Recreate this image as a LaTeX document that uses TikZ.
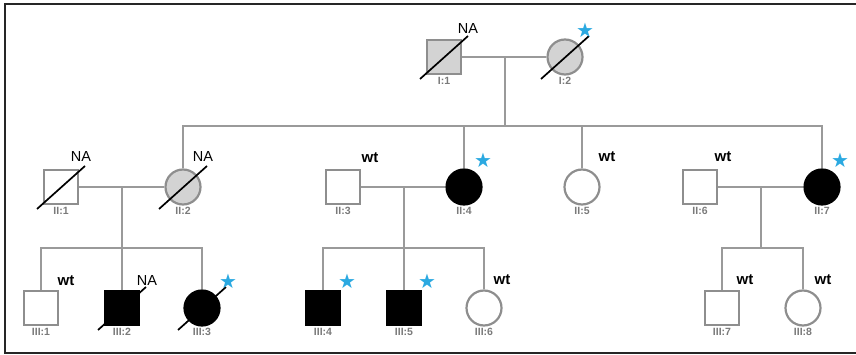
\documentclass[tikz,border=0pt]{standalone}
\usepackage{fontspec}
\setmainfont{Liberation Sans}
\newfontfamily\starfont{DejaVu Sans}
\usetikzlibrary{calc}
\definecolor{linegray}{HTML}{9A9A9A}
\definecolor{edgegray}{HTML}{8E8E8E}
\definecolor{carrier}{HTML}{D3D3D3}
\definecolor{starblue}{HTML}{2BA9E1}
\definecolor{idgray}{HTML}{7A7A7A}

\begin{document}
\begin{tikzpicture}[x=1pt, y=-1pt,
  male/.style={draw=edgegray, line width=2.2pt, fill=white, minimum size=34pt, inner sep=0pt},
  female/.style={circle, draw=edgegray, line width=2.2pt, fill=white, minimum size=35pt, inner sep=0pt},
  grayfill/.style={fill=carrier},
  affected/.style={fill=black, draw=black},
  idlab/.style={font=\fontsize{10.5}{11}\selectfont\bfseries, text=idgray, inner sep=0pt},
  na/.style={font=\fontsize{14.5}{15}\selectfont, inner sep=0pt},
  wt/.style={font=\fontsize{15}{15}\selectfont\bfseries, inner sep=0pt},
  starmark/.style={font=\starfont\fontsize{20}{20}\selectfont, text=starblue, inner sep=0pt},
  link/.style={draw=linegray, line width=2pt},
  slash/.style={draw=black, line width=1.7pt},
  frame/.style={draw=black!85, line width=2pt}
]
\useasboundingbox (0,0) rectangle (856,355);
\draw[frame] (856,4) -- (5,4) -- (5,353) -- (856,353);

% generation I
\node[male, grayfill] (i1) at (444,57) {};
\node[female, grayfill] (i2) at (565,57) {};

% generation II
\node[male] (ii1) at (61,187) {};
\node[female, grayfill] (ii2) at (183,187) {};
\node[male] (ii3) at (343,187) {};
\node[female, affected] (ii4) at (464,187) {};
\node[female] (ii5) at (582,187) {};
\node[male] (ii6) at (700,187) {};
\node[female, affected] (ii7) at (822,187) {};

% generation III
\node[male] (iii1) at (41,308) {};
\node[male, affected] (iii2) at (122,308) {};
\node[female, affected] (iii3) at (202,308) {};
\node[male, affected] (iii4) at (323,308) {};
\node[male, affected] (iii5) at (404,308) {};
\node[female] (iii6) at (484,308) {};
\node[male] (iii7) at (722,308) {};
\node[female] (iii8) at (803,308) {};

\foreach \n/\t in {i1/I:1, i2/I:2, ii1/II:1, ii2/II:2, ii3/II:3, ii4/II:4, ii5/II:5, ii6/II:6, ii7/II:7,
  iii1/III:1, iii2/III:2, iii3/III:3, iii4/III:4, iii5/III:5, iii6/III:6, iii7/III:7, iii8/III:8}
  \node[idlab] (\n-id) at ([shift={(0,24)}]\n.center) {\t};

% matings and sibships
\coordinate (c1) at ($(i1)!0.5!(i2)$);
\coordinate (s1) at (c1 |- 0,126);
\draw[link] (i1) -- (i2);
\draw[link] (c1) -- (s1);
\draw[link] (ii2.north) -- (ii2.north |- s1) -- (ii7.north |- s1) -- (ii7.north);
\draw[link] (ii4.north) -- (ii4.north |- s1);
\draw[link] (ii5.north) -- (ii5.north |- s1);

\coordinate (c2) at ($(ii1)!0.5!(ii2)$);
\coordinate (s2) at (c2 |- 0,248);
\draw[link] (ii1) -- (ii2);
\draw[link] (c2) -- (s2);
\draw[link] (iii1.north) -- (iii1.north |- s2) -- (iii3.north |- s2) -- (iii3.north);
\draw[link] (iii2.north) -- (iii2.north |- s2);

\coordinate (c3) at ($(ii3)!0.5!(ii4)$);
\coordinate (s3) at (c3 |- 0,248);
\draw[link] (ii3) -- (ii4);
\draw[link] (c3) -- (s3);
\draw[link] (iii4.north) -- (iii4.north |- s3) -- (iii6.north |- s3) -- (iii6.north);
\draw[link] (iii5.north) -- (iii5.north |- s3);

\coordinate (c4) at ($(ii6)!0.5!(ii7)$);
\coordinate (s4) at (c4 |- 0,248);
\draw[link] (ii6) -- (ii7);
\draw[link] (c4) -- (s4);
\draw[link] (iii7.north) -- (iii7.north |- s4) -- (iii8.north |- s4) -- (iii8.north);

% deceased
\foreach \n in {i1,i2,ii1,ii2,iii2,iii3}
  \draw[slash] ([shift={(-24,22)}]\n.center) -- ([shift={(24,-21)}]\n.center);

% genotype notes
\node[na] (na-i1) at ([shift={(24,-28)}]i1.center) {NA};
\node[na] (na-ii1) at ([shift={(20,-30)}]ii1.center) {NA};
\node[na] (na-ii2) at ([shift={(20,-30)}]ii2.center) {NA};
\node[na] (na-iii2) at ([shift={(25,-27)}]iii2.center) {NA};
\node[wt] (wt-ii3) at ([shift={(27,-29)}]ii3.center) {wt};
\node[wt] (wt-ii5) at ([shift={(25,-30)}]ii5.center) {wt};
\node[wt] (wt-ii6) at ([shift={(23,-30)}]ii6.center) {wt};
\node[wt] (wt-iii1) at ([shift={(25,-27)}]iii1.center) {wt};
\node[wt] (wt-iii6) at ([shift={(18,-28)}]iii6.center) {wt};
\node[wt] (wt-iii7) at ([shift={(23,-28)}]iii7.center) {wt};
\node[wt] (wt-iii8) at ([shift={(20,-28)}]iii8.center) {wt};
\foreach \n/\dx in {i2/20, ii4/19, ii7/18, iii3/26, iii4/24, iii5/23}
  \node[starmark] (star-\n) at ([shift={(\dx,-27)}]\n.center) {★};

\end{tikzpicture}
\end{document}
